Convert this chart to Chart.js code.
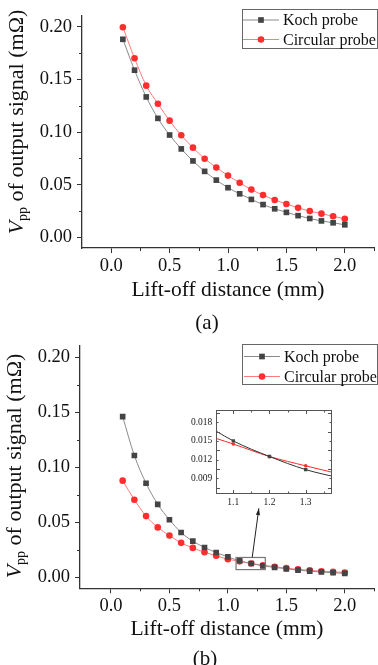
<!DOCTYPE html>
<html>
<head>
<meta charset="utf-8">
<script src="https://cdn.jsdelivr.net/npm/chart.js@4.4.1/dist/chart.umd.min.js"></script>
<style>
body { margin: 0; background: #fff; width: 378px; height: 665px; position: relative; overflow: hidden; font-family: 'Liberation Serif', 'Times New Roman', serif; color: #111; }
canvas { position: absolute; }
.ytitle { position: absolute; white-space: nowrap; font-size: 22px; transform: translate(-50%, -50%) rotate(-90deg); }
.ytitle sub { font-size: 14px; vertical-align: -4px; }
.cap { position: absolute; font-size: 21px; transform: translate(-50%, -50%); }
</style>
</head>
<body>
<canvas id="chartA" width="378" height="330" style="left:0;top:0"></canvas>
<canvas id="chartB" width="378" height="335" style="left:0;top:330px"></canvas>
<canvas id="chartZoom" width="150" height="112" style="left:185px;top:400px"></canvas>
<div class="ytitle" style="left:17px;top:122px"><i>V</i><sub>pp</sub> of output signal (mΩ)</div>
<div class="ytitle" style="left:15px;top:466px"><i>V</i><sub>pp</sub> of output signal (mΩ)</div>
<div class="cap" style="left:207px;top:322px">(a)</div>
<div class="cap" style="left:205px;top:658px">(b)</div>
<script>
// lift-off distance (mm)
const liftOff = [0.1, 0.2, 0.3, 0.4, 0.5, 0.6, 0.7, 0.8, 0.9, 1.0, 1.1, 1.2, 1.3, 1.4, 1.5, 1.6, 1.7, 1.8, 1.9, 2.0];

// (a)
const kochA = [0.188, 0.1587, 0.1333, 0.113, 0.0972, 0.084, 0.0726, 0.0627, 0.0544, 0.0472, 0.0414, 0.0361, 0.0312, 0.0272, 0.0238, 0.0207, 0.018, 0.0157, 0.0139, 0.012];
const circA = [0.1994, 0.170, 0.144, 0.1269, 0.1108, 0.0969, 0.0852, 0.0747, 0.0664, 0.0587, 0.0519, 0.0454, 0.0402, 0.0356, 0.0318, 0.0281, 0.025, 0.0226, 0.0201, 0.0176];

// (b)
const kochB = [0.1459, 0.1106, 0.0854, 0.0663, 0.0523, 0.0407, 0.0328, 0.0271, 0.0225, 0.0185, 0.0150, 0.0125, 0.0104, 0.0090, 0.0077, 0.0065, 0.0056, 0.0048, 0.0041, 0.0036];
const circB = [0.0878, 0.0705, 0.0556, 0.0453, 0.0380, 0.0313, 0.0267, 0.0228, 0.0195, 0.0165, 0.0145, 0.0125, 0.0110, 0.0096, 0.0083, 0.0072, 0.0063, 0.0055, 0.0049, 0.0044];

const seriesNames = ['Koch probe', 'Circular probe'];

// tick labels
const xTicks = [0.0, 0.5, 1.0, 1.5, 2.0];
const yTicks = [0.00, 0.05, 0.10, 0.15, 0.20];
const xTicksZoom = [1.1, 1.2, 1.3];
const yTicksZoom = [0.009, 0.012, 0.015, 0.018];

// zoom window of (b), shown in the inset
const zoomX = [1.07, 1.32];
const zoomY = [0.007, 0.018];
const arrowFrom = [1.208, 0.018];
const arrowTo = [1.265, 0.0626];

const FONT = "'Liberation Serif', 'Times New Roman', serif";
const AXIS = '#333';

const pts = vals => vals.map((v, i) => ({ x: liftOff[i], y: v }));
const fixTicks = list => s => { s.ticks = list.map(v => ({ value: v })); };

function sets(koch, circ, small) {
    return [
        { label: seriesNames[0], data: pts(koch), borderColor: small ? '#333' : '#8a8a8a', borderWidth: 1,
          pointStyle: 'rect', pointRadius: small ? 2.4 : 4, pointBackgroundColor: '#444', pointBorderColor: '#444', pointBorderWidth: 0,
          cubicInterpolationMode: 'monotone' },
        { label: seriesNames[1], data: pts(circ), borderColor: small ? '#ff2a2a' : '#ff7a7a', borderWidth: 1,
          pointStyle: 'circle', pointRadius: small ? 1.8 : 3.3, pointBackgroundColor: '#ff2d2d', pointBorderColor: '#ff2d2d', pointBorderWidth: 0,
          cubicInterpolationMode: 'monotone' }
    ];
}

// minor ticks between the labelled ones
const minorTicks = {
    id: 'minorTicks',
    afterDraw(chart, args, o) {
        if (!o.x) return;
        const { ctx } = chart;
        const x = chart.scales.x, y = chart.scales.y;
        ctx.save();
        ctx.strokeStyle = AXIS; ctx.lineWidth = 1;
        ctx.beginPath();
        for (let v = o.x[0]; v <= x.max + 1e-9; v += o.x[1]) {
            const px = Math.round(x.getPixelForValue(v)) + 0.5;
            ctx.moveTo(px, x.top); ctx.lineTo(px, x.top + o.len);
        }
        for (let v = o.y[0]; v <= y.max + 1e-9; v += o.y[1]) {
            const py = Math.round(y.getPixelForValue(v)) + 0.5;
            ctx.moveTo(y.right, py); ctx.lineTo(y.right - o.len, py);
        }
        ctx.stroke();
        ctx.restore();
    }
};

// framed legend: short line with marker, then name
const boxLegend = {
    id: 'boxLegend',
    afterDraw(chart, args, o) {
        if (!o.box) return;
        const { ctx } = chart;
        const [x0, y0, x1, y1] = o.box;
        ctx.save();
        ctx.strokeStyle = '#666'; ctx.lineWidth = 1;
        ctx.strokeRect(x0 + 0.5, y0 + 0.5, x1 - x0 - 1, y1 - y0 - 1);
        ctx.font = '16px ' + FONT;
        ctx.textBaseline = 'middle';
        chart.data.datasets.forEach((ds, i) => {
            const ry = o.rows[i];
            ctx.strokeStyle = ds.borderColor; ctx.lineWidth = 1;
            ctx.beginPath(); ctx.moveTo(o.line[0], ry); ctx.lineTo(o.line[1], ry); ctx.stroke();
            ctx.fillStyle = ds.pointBackgroundColor; ctx.strokeStyle = ds.pointBorderColor;
            Chart.helpers.drawPoint(ctx, { pointStyle: ds.pointStyle, radius: ds.pointRadius, rotation: 0, borderWidth: 0 }, (o.line[0] + o.line[1]) / 2, ry);
            ctx.fillStyle = '#111';
            ctx.fillText(ds.label, o.textX, ry + 1);
        });
        ctx.restore();
    }
};

// rectangle around the zoomed region and arrow to the inset
const zoomMark = {
    id: 'zoomMark',
    afterDatasetsDraw(chart, args, o) {
        if (!o.on) return;
        const { ctx } = chart;
        const x = chart.scales.x, y = chart.scales.y;
        const l = x.getPixelForValue(zoomX[0]), r = x.getPixelForValue(zoomX[1]);
        const t = y.getPixelForValue(zoomY[1]), b = y.getPixelForValue(zoomY[0]);
        ctx.save();
        ctx.strokeStyle = '#777'; ctx.lineWidth = 1.2;
        ctx.strokeRect(l, t, r - l, b - t);
        const ax = x.getPixelForValue(arrowFrom[0]), ay = y.getPixelForValue(arrowFrom[1]);
        const bx = x.getPixelForValue(arrowTo[0]), by = y.getPixelForValue(arrowTo[1]);
        ctx.strokeStyle = '#222'; ctx.lineWidth = 1;
        ctx.beginPath(); ctx.moveTo(ax, ay); ctx.lineTo(bx, by); ctx.stroke();
        const ang = Math.atan2(by - ay, bx - ax);
        ctx.fillStyle = '#222';
        ctx.beginPath();
        ctx.moveTo(bx, by);
        ctx.lineTo(bx - 7 * Math.cos(ang - 0.3), by - 7 * Math.sin(ang - 0.3));
        ctx.lineTo(bx - 7 * Math.cos(ang + 0.3), by - 7 * Math.sin(ang + 0.3));
        ctx.closePath(); ctx.fill();
        ctx.restore();
    }
};

// full frame for the inset, with inward ticks on all four sides
const frame = {
    id: 'frame',
    afterDraw(chart, args, o) {
        if (!o.on) return;
        const { ctx, chartArea: a } = chart;
        const x = chart.scales.x, y = chart.scales.y;
        const L = Math.round(a.left) + 0.5, T = Math.round(a.top) + 0.5;
        const R = Math.round(a.right) + 0.5, B = Math.round(a.bottom) + 0.5;
        ctx.save();
        ctx.strokeStyle = '#555'; ctx.lineWidth = 1;
        ctx.strokeRect(L, T, R - L, B - T);
        ctx.beginPath();
        const xs = [], ys = [];
        for (let v = o.x[0]; v <= x.max + 1e-9; v += o.x[1]) xs.push(v);
        for (let v = o.y[0]; v <= y.max + 1e-9; v += o.y[1]) ys.push(v);
        xs.forEach((v, i) => {
            const px = Math.round(x.getPixelForValue(v)) + 0.5, len = i % 2 ? 2 : 3.5;
            ctx.moveTo(px, B); ctx.lineTo(px, B - len);
            ctx.moveTo(px, T); ctx.lineTo(px, T + len);
        });
        ys.forEach((v, i) => {
            const py = Math.round(y.getPixelForValue(v)) + 0.5, len = i % 2 ? 2 : 3.5;
            ctx.moveTo(L, py); ctx.lineTo(L + len, py);
            ctx.moveTo(R, py); ctx.lineTo(R - len, py);
        });
        ctx.stroke();
        ctx.restore();
    }
};

Chart.register(minorTicks, boxLegend, zoomMark, frame);

function mainChart(id, koch, circ, lay) {
    return new Chart(document.getElementById(id), {
        type: 'line',
        data: { datasets: sets(koch, circ, false) },
        options: {
            responsive: false, animation: false,
            layout: { padding: { left: 0, right: 0, top: lay.top, bottom: lay.bottom } },
            scales: {
                x: {
                    type: 'linear', min: lay.xmin, max: 2.25,
                    afterBuildTicks: fixTicks(xTicks),
                    afterFit: s => { s.height = lay.xh; },
                    border: { display: true, color: AXIS, width: 1.3 },
                    grid: { drawOnChartArea: false, drawTicks: true, tickLength: 5, color: AXIS },
                    ticks: { padding: 2, color: '#111', font: { family: FONT, size: 18.5 }, callback: v => v.toFixed(1) },
                    title: { display: true, text: 'Lift-off distance (mm)', color: '#111', padding: 0, font: { family: FONT, size: 21.5 } }
                },
                y: {
                    min: -0.01, max: 0.21,
                    afterBuildTicks: fixTicks(yTicks),
                    afterFit: s => { s.width = lay.yw; },
                    border: { display: true, color: AXIS, width: 1.3 },
                    grid: { drawOnChartArea: false, drawTicks: true, tickLength: 5, color: AXIS },
                    ticks: { padding: 5, color: '#111', font: { family: FONT, size: 18.5 }, callback: v => v.toFixed(2) }
                }
            },
            plugins: {
                legend: { display: false }, tooltip: { enabled: false },
                minorTicks: { x: [0.25, 0.5], y: [0.025, 0.05], len: 3 },
                boxLegend: lay.legend,
                zoomMark: { on: lay.zoom }
            }
        }
    });
}

mainChart('chartA', kochA, circA, {
    top: 10, bottom: 27, xh: 55, yw: 82, xmin: -0.25, zoom: false,
    legend: { box: [242, 9, 378, 49], rows: [20, 39.5], line: [243, 279], textX: 283 }
});

mainChart('chartB', kochB, circB, {
    top: 16, bottom: 22.5, xh: 54.2, yw: 80, xmin: -0.265, zoom: true,
    legend: { box: [242, 14, 378, 55], rows: [26.5, 46.5], line: [244, 280], textX: 284 }
});

new Chart(document.getElementById('chartZoom'), {
    type: 'line',
    data: { datasets: sets(kochB, circB, true) },
    options: {
        responsive: false, animation: false,
        layout: { padding: { left: 0, right: 2, top: 9, bottom: 0 } },
        scales: {
            x: {
                type: 'linear', min: 1.053, max: 1.37,
                afterBuildTicks: fixTicks(xTicksZoom),
                afterFit: s => { s.height = 18.7; },
                border: { display: false },
                grid: { drawOnChartArea: false, drawTicks: false },
                ticks: { padding: 3, color: '#222', font: { family: FONT, size: 9.5 }, callback: v => v.toFixed(1) }
            },
            y: {
                min: 0.0066, max: 0.020,
                afterBuildTicks: fixTicks(yTicksZoom),
                afterFit: s => { s.width = 31.3; },
                border: { display: false },
                grid: { drawOnChartArea: false, drawTicks: false },
                ticks: { padding: 4, color: '#222', font: { family: FONT, size: 9.5 }, callback: v => v.toFixed(3) }
            }
        },
        plugins: {
            legend: { display: false }, tooltip: { enabled: false },
            frame: { on: true, x: [1.1, 0.05], y: [0.0075, 0.0015] }
        }
    }
});
</script>
</body>
</html>
